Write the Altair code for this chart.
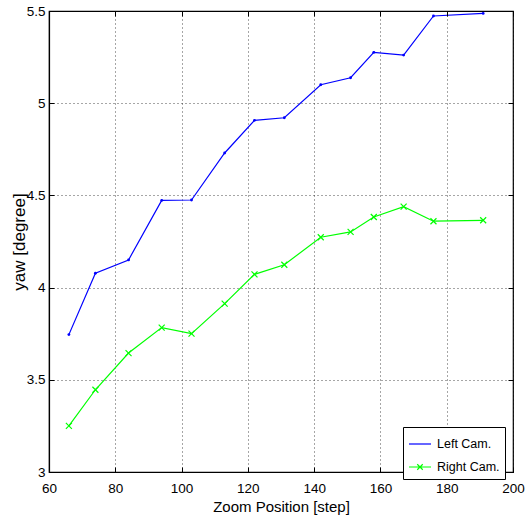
import altair as alt
import pandas as pd

zoom_pos = [66, 74, 84, 94, 103, 113, 122, 131, 142, 151, 158, 167, 176, 191]
left_cam = [3.745, 4.078, 4.150, 4.473, 4.475, 4.730, 4.907, 4.921, 5.100, 5.138, 5.276, 5.261, 5.473, 5.487]
right_cam = [3.250, 3.446, 3.645, 3.783, 3.750, 3.913, 4.072, 4.124, 4.273, 4.302, 4.383, 4.439, 4.360, 4.365]
series_names = ["Left Cam.", "Right Cam."]
series_colors = ["#0000ff", "#00ff00"]
x_ticks = [60, 80, 100, 120, 140, 160, 180, 200]
y_ticks = [3, 3.5, 4, 4.5, 5, 5.5]

rows = []
for xv, yv in zip(zoom_pos, left_cam):
    rows.append({"x": xv, "y": yv, "series": series_names[0]})
for xv, yv in zip(zoom_pos, right_cam):
    rows.append({"x": xv, "y": yv, "series": series_names[1]})
df = pd.DataFrame(rows)

FONT = "Liberation Sans, Arial, sans-serif"
W, H = 464, 461
INWARD = alt.ExprRef("-5")

xscale = alt.Scale(domain=[60, 200], nice=False, zero=False)
yscale = alt.Scale(domain=[3, 5.5], nice=False, zero=False)
cscale = alt.Scale(domain=series_names, range=series_colors)

grid_kw = dict(grid=True, gridDash=[1, 3], gridColor="#000000", gridOpacity=0.7, gridWidth=1)

x_main = alt.X("x:Q", scale=xscale, title="Zoom Position [step]",
               axis=alt.Axis(values=x_ticks, tickSize=0,
                             labelPadding=9, domainColor="#000000",
                             domainWidth=1.2, labelFont=FONT, labelFontSize=13.5, labelColor="#000000",
                             titleFont=FONT, titleFontSize=15, titleFontWeight="normal",
                             titleColor="#000000", titlePadding=5, labelFlush=False, **grid_kw))
y_main = alt.Y("y:Q", scale=yscale, title="yaw [degree]",
               axis=alt.Axis(values=y_ticks, format="~g", tickSize=0, labelPadding=4,
                             domainColor="#000000", domainWidth=1.2, labelFont=FONT, labelFontSize=13.5,
                             labelColor="#000000", titleFont=FONT,
                             titleFontSize=17, titleFontWeight="normal", titleColor="#000000",
                             titleX=-30, titleY=H / 2, titleBaseline="middle", titleAlign="center",
                             titleAngle=270, labelFlush=False, **grid_kw))

def tick_axis(orient, values):
    return alt.Axis(orient=orient, values=values, tickSize=INWARD, tickColor="#000000",
                    tickWidth=1, labels=False, domain=False, grid=False, title=None, zindex=1)

def sub(name):
    return alt.Chart(df).transform_filter(alt.datum.series == name)

blue_line = sub(series_names[0]).mark_line(strokeWidth=1.2, color=series_colors[0]).encode(
    x=x_main, y=y_main)

green_line = sub(series_names[1]).mark_line(strokeWidth=1.2, color=series_colors[1]).encode(
    x=alt.X("x:Q", scale=xscale, axis=tick_axis("top", x_ticks)),
    y=alt.Y("y:Q", scale=yscale, axis=tick_axis("right", y_ticks)))

blue_pts = sub(series_names[0]).mark_point(
    filled=True, size=8, opacity=1, color=series_colors[0]).encode(
    x=alt.X("x:Q", scale=xscale, axis=tick_axis("bottom", x_ticks)),
    y=alt.Y("y:Q", scale=yscale, axis=tick_axis("left", y_ticks)))

green_pts = sub(series_names[1]).mark_point(
    filled=False, size=36, strokeWidth=1.2, opacity=1, color=series_colors[1],
    shape="M-1,-1L1,1M-1,1L1,-1").encode(
    x=alt.X("x:Q", scale=xscale, axis=None),
    y=alt.Y("y:Q", scale=yscale, axis=None))

legend_layer = alt.Chart(df).mark_point(
    filled=False, strokeWidth=1.2, opacity=0).encode(
    x=alt.X("x:Q", scale=xscale, axis=None),
    y=alt.Y("y:Q", scale=yscale, axis=None),
    color=alt.Color("series:N", scale=cscale, title=None,
                    legend=alt.Legend(orient="none", legendX=354, legendY=416, title=None,
                                      labelFont=FONT, labelFontSize=12.5, labelColor="#000000",
                                      symbolSize=484, symbolStrokeWidth=1.2, symbolOpacity=1,
                                      labelOffset=5, padding=5, rowPadding=4, zindex=2,
                                      strokeColor="#000000", fillColor="#ffffff")),
    shape=alt.Shape("series:N", title=None,
                    scale=alt.Scale(domain=series_names,
                                    range=["M-1,0L1,0",
                                           "M-1,0L1,0M-0.25,-0.25L0.25,0.25M-0.25,0.25L0.25,-0.25"]),
                    legend=alt.Legend(orient="none", legendX=354, legendY=416, title=None,
                                      symbolSize=484, symbolOpacity=1, zindex=2)),
)

chart = alt.layer(blue_line, green_line, blue_pts, green_pts, legend_layer).resolve_axis(
    x="independent", y="independent"
).properties(
    width=W, height=H,
    padding={"left": 49, "top": 11, "right": 529 - 49 - W, "bottom": 521 - 11 - H},
    autosize=alt.AutoSizeParams(type="none"),
    background="#ffffff",
).configure_view(stroke="#000000", strokeWidth=1.2)

chart.save("out.html", embed_options={"renderer": "svg", "actions": False})
